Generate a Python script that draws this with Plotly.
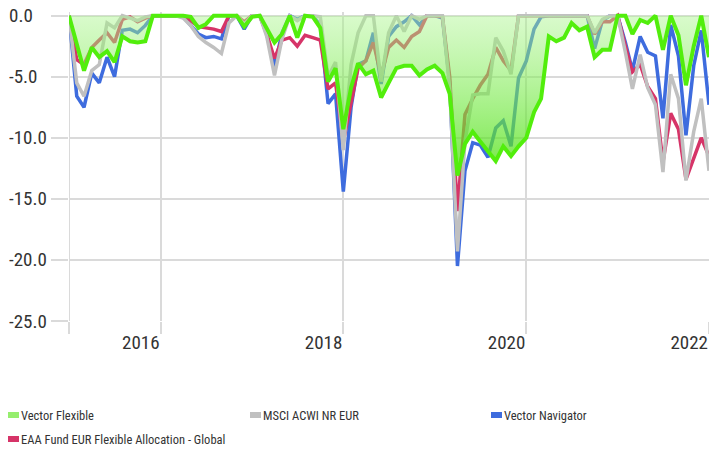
import pandas as pd
import plotly.graph_objects as go

# ---------------- data (monthly drawdown, %) ----------------
dates = pd.date_range("2015-12-31", periods=85, freq=pd.offsets.MonthEnd())

vector_flexible = [
    0, -2.3, -4.5, -2.6, -3.4, -2.9, -3.8, -1.7, -2.1, -2.2, -2.1, 0,
    0, 0, 0, 0, -0.1, -1.0, -0.7, 0, 0, 0, 0, -0.9,
    -0.1, 0, -1.0, -2.2, -1.5, 0, -1.8, 0, -0.1, -1.0, -5.4, -4.3,
    -9.3, -5.9, -3.9, -4.8, -4.5, -6.7, -5.5, -4.3, -4.1, -4.1, -4.9, -4.4,
    -4.1, -4.7, -6.4, -13.1, -10.5, -9.5, -10.3, -11.1, -11.9, -10.7, -11.5, -10.7,
    -10.0, -7.9, -6.8, -1.7, -2.1, -1.8, -0.6, -1.2, -0.9, -3.4, -2.8, -2.8,
    0, 0, -1.5, -0.35, -0.6, 0, -2.8, 0, -1.6, -5.7, -2.5, 0,
    -3.4,
]
msci_acwi = [
    0, -5.5, -6.6, -4.5, -4.0, -0.6, -1.0, 0, -0.2, -0.4, -0.1, 0,
    0, 0, 0, -0.2, -0.8, -1.7, -2.2, -2.6, -3.1, -0.6, 0, -0.7,
    0, 0, -1.7, -4.9, -1.9, 0, -0.4, 0, 0, -0.1, -5.0, -3.8,
    -11.0, -4.0, -1.4, 0, 0, -5.4, -1.4, 0, -1.3, 0, -0.3, 0,
    0, 0, -6.0, -19.3, -10.3, -6.5, -6.4, -6.4, -1.8, -2.9, -4.8, 0,
    0, 0, 0, 0, 0, 0, 0, 0, 0, -1.4, -0.3, 0,
    0, -3.0, -6.0, -3.2, -5.9, -7.3, -12.8, -4.8, -6.8, -13.5, -9.5, -6.8,
    -12.7,
]
vector_navigator = [
    0, -6.6, -7.5, -4.7, -5.5, -3.4, -5.0, -1.2, -1.1, -1.4, -0.8, 0,
    0, 0, 0, -0.1, -0.8, -1.5, -1.8, -1.7, -1.9, 0, 0, -1.1,
    0, 0, -1.5, -4.2, -1.4, 0, -0.3, 0, 0, -0.8, -7.2, -6.4,
    -14.4, -7.5, -4.0, -3.7, -1.4, -5.6, -1.7, -0.9, -0.5, 0, -0.75, 0,
    0, -0.2, -5.5, -20.5, -12.7, -10.4, -10.6, -11.6, -9.2, -8.6, -10.7, -5.1,
    -3.7, -1.1, -0.1, 0, 0, 0, 0, 0, 0, -2.7, -0.4, 0,
    0, -2.2, -4.5, -1.7, -3.0, -3.3, -8.4, -0.75, -3.3, -9.8, -4.1, -1.2,
    -7.3,
]
eaa_fund = [
    0, -3.6, -4.0, -2.6, -2.0, -1.4, -2.2, -0.3, -0.1, -0.5, -0.2, 0,
    0, 0, 0, 0, -0.4, -0.9, -1.0, -1.1, -1.3, 0, 0, -0.5,
    0, 0, -1.5, -3.5, -2.0, -1.8, -2.5, -1.6, -1.8, -2.0, -6.0, -5.5,
    -10.3, -7.0, -4.3, -3.7, -2.2, -4.9, -2.6, -2.0, -2.6, -1.7, -1.3, 0,
    0, -0.1, -5.0, -16.0, -8.1, -6.8, -5.7, -4.8, -2.6, -3.7, -4.5, 0,
    0, 0, 0, 0, 0, 0, 0, 0, 0, -1.5, -0.5, -0.5,
    0, -2.5, -4.6, -4.0, -5.8, -6.8, -12.0, -8.0, -9.3, -13.4, -11.6, -10.0,
    -11.5,
]

series_names = ["Vector Flexible", "MSCI ACWI NR EUR", "Vector Navigator",
                "EAA Fund EUR Flexible Allocation - Global"]

x_tick_vals = ["2015-12-31", "2016-12-31", "2018-12-31", "2020-12-31", "2022-12-31"]
x_tick_text = ["", "2016", "2018", "2020", "2022"]
y_tick_vals = [0, -5, -10, -15, -20, -25]
y_tick_text = ["0.0", "-5.0", "-10.0", "-15.0", "-20.0", "-25.0"]

# ---------------- styling ----------------
GREEN = "rgb(82,238,12)"
GRAY = "rgb(192,192,192)"
BLUE = "rgb(62,108,222)"
RED = "rgb(214,52,104)"
GRID = "rgb(218,218,218)"
FONT = "Roboto Condensed, Liberation Sans Narrow, DejaVu Sans Condensed, sans-serif"
TXT = "#333333"

W, H = 709, 449
L, R, T, B = 69, 709, 12, 321

fig = go.Figure()
fig.add_trace(go.Scatter(x=dates, y=vector_navigator, mode="lines",
                         line=dict(color=BLUE, width=3.5), name=series_names[2]))
fig.add_trace(go.Scatter(x=dates, y=eaa_fund, mode="lines",
                         line=dict(color=RED, width=3.5), name=series_names[3]))
fig.add_trace(go.Scatter(x=dates, y=msci_acwi, mode="lines",
                         line=dict(color=GRAY, width=3.5), name=series_names[1]))
fig.add_trace(go.Scatter(
    x=dates, y=vector_flexible, mode="lines", name=series_names[0],
    line=dict(color=GREEN, width=4),
    fill="tozeroy",
    fillgradient=dict(type="vertical", start=0, stop=-12,
                      colorscale=[[0, "rgba(170,245,140,0.45)"],
                                  [1, "rgba(80,225,20,0.74)"]]),
))

fig.update_layout(
    width=W, height=H,
    margin=dict(l=L, r=W - R, t=T, b=H - B),
    paper_bgcolor="white", plot_bgcolor="white",
    showlegend=False,
    font=dict(family=FONT, color=TXT),
    xaxis=dict(
        range=[x_tick_vals[0], x_tick_vals[-1]],
        tickvals=x_tick_vals, ticktext=x_tick_text,
        showgrid=True, gridcolor=GRID, gridwidth=2,
        ticks="outside", ticklen=12, tickwidth=2, tickcolor=GRID,
        ticklabelposition="outside left", ticklabelstandoff=4,
        tickfont=dict(size=19, color=TXT, family=FONT),
        zeroline=False, showline=False,
    ),
    yaxis=dict(
        range=[-25, 0.3],
        tickvals=y_tick_vals,
        showticklabels=False,
        showgrid=True, gridcolor=GRID, gridwidth=2,
        ticks="outside", ticklen=17, tickwidth=2, tickcolor=GRID,
        zeroline=False, showline=False,
    ),
)

def px(x):
    return (x - L) / (R - L)

def py(y):
    return (B - y) / (B - T)

# left edge gridline (start of the period)
fig.add_shape(type="line", xref="x", yref="paper", x0=dates[0], x1=dates[0],
              y0=0, y1=1, line=dict(color=GRID, width=2), layer="below")

# y tick labels, left aligned like the reference
for v, t in zip(y_tick_vals, y_tick_text):
    fig.add_annotation(xref="paper", yref="y", x=px(7), y=v, xanchor="left",
                       yanchor="middle", showarrow=False, text=t,
                       font=dict(size=19, color=TXT, family=FONT))

# ---------------- custom legend ----------------
legend_items = [
    (series_names[0], "rgb(150,238,110)", 8, 415),
    (series_names[1], GRAY, 250, 415),
    (series_names[2], BLUE, 491, 415),
    (series_names[3], RED, 8, 439),
]
for name, col, lx, ly in legend_items:
    fig.add_shape(type="rect", xref="paper", yref="paper",
                  x0=px(lx), x1=px(lx + 11), y0=py(ly + 3), y1=py(ly - 3),
                  fillcolor=col, line=dict(width=0))
    fig.add_annotation(xref="paper", yref="paper", x=px(lx + 11), y=py(ly),
                       xanchor="left", yanchor="middle", showarrow=False,
                       text=name, font=dict(size=12.5, color=TXT, family=FONT))

fig.write_html("out.html", config={"displayModeBar": False},
               post_script="document.body.style.margin='0';")
